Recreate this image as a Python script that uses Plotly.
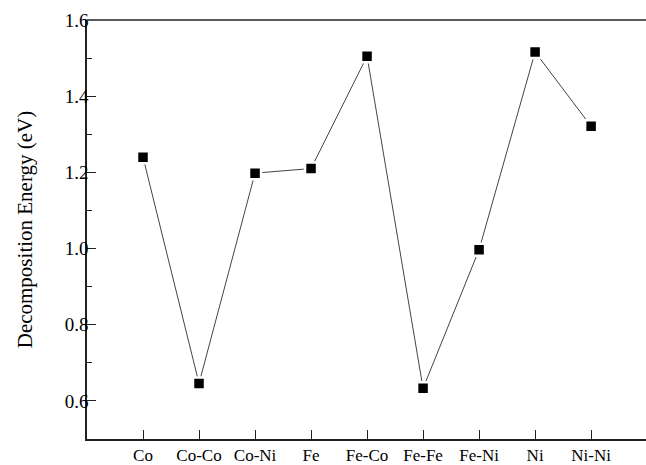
import plotly.graph_objects as go

categories = ["Co", "Co-Co", "Co-Ni", "Fe", "Fe-Co", "Fe-Fe", "Fe-Ni", "Ni", "Ni-Ni"]
energy = [1.240, 0.646, 1.198, 1.210, 1.505, 0.633, 0.997, 1.516, 1.321]
y_ticks = [0.6, 0.8, 1.0, 1.2, 1.4, 1.6]
y_tick_labels = ["0.6", "0.8", "1.0", "1.2", "1.4", "1.6"]
y_minor_ticks = [0.5, 0.7, 0.9, 1.1, 1.3, 1.5]

font_family = "Liberation Serif"

fig = go.Figure()
fig.add_trace(go.Scatter(
    x=categories, y=energy, mode="lines+markers",
    line=dict(color="#444444", width=1),
    marker=dict(symbol="square", size=12, color="black",
                line=dict(color="white", width=2.5)),
    showlegend=False,
))

fig.add_shape(type="line", xref="paper", yref="paper", x0=0, x1=1, y0=1, y1=1,
              line=dict(color="#222222", width=1.5))

fig.update_layout(
    width=646, height=465,
    margin=dict(l=87, r=0, t=20, b=26),
    paper_bgcolor="white", plot_bgcolor="white",
    font=dict(family=font_family, color="black"),
    xaxis=dict(
        type="category", range=[-1, 8.98],
        showline=True, linecolor="#222222", linewidth=1.5,
        ticks="inside", ticklen=9, tickwidth=1.2, tickcolor="#222222",
        showgrid=False, zeroline=False,
        tickfont=dict(family=font_family, size=17, color="black"),
    ),
    yaxis=dict(
        range=[0.5, 1.6],
        tickvals=y_ticks, ticktext=y_tick_labels,
        showline=True, linecolor="#222222", linewidth=1.5,
        ticks="inside", ticklen=9, tickwidth=1.2, tickcolor="#222222",
        ticklabelstandoff=-7,
        showgrid=False, zeroline=False,
        tickfont=dict(family=font_family, size=19, color="black"),
        title=dict(text="Decomposition Energy (eV)",
                   font=dict(family=font_family, size=21, color="black"),
                   standoff=26),
    ),
)

# minor ticks drawn as a second (overlaying) y axis with no labels
fig.add_trace(go.Scatter(x=[], y=[], yaxis="y2", showlegend=False))
fig.update_layout(yaxis2=dict(
    overlaying="y", side="left", range=[0.5, 1.6], tickvals=y_minor_ticks,
    showticklabels=False, ticks="inside", ticklen=5, tickwidth=1.2,
    tickcolor="#222222", showgrid=False, zeroline=False, showline=False,
))

fig.write_html("out.html")
